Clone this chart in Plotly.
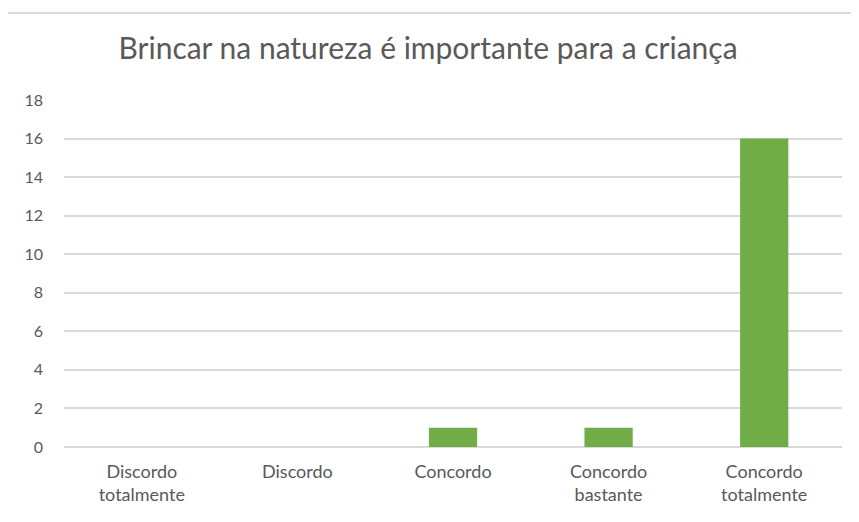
import plotly.graph_objects as go

CATEGORIES = ["Discordo<br>totalmente", "Discordo", "Concordo", "Concordo<br>bastante", "Concordo<br>totalmente"]
COUNTS = [0, 0, 1, 1, 16]
Y_TICKS = [0, 2, 4, 6, 8, 10, 12, 14, 16, 18]

TITLE = "Brincar na natureza é importante para a criança"
BAR_COLOR = "#70ad47"
GRID_COLOR = "#d9d9d9"
TEXT_COLOR = "#595959"
FONT = "Lato"

fig = go.Figure()
fig.add_trace(
    go.Bar(
        x=CATEGORIES,
        y=COUNTS,
        marker={"color": BAR_COLOR, "line": {"width": 0}},
        hoverinfo="x+y",
    )
)

# light chart-area frame, only top and left edges show in the crop
fig.add_shape(
    type="rect",
    xref="paper",
    yref="paper",
    x0=-0.0733,
    x1=1.2,
    y0=-0.6,
    y1=1.2507,
    line={"color": "#d9d9d9", "width": 2},
    layer="below",
)

# the page body adds an 8px offset, margins compensate for it
fig.update_layout(
    width=859,
    height=522,
    template="plotly_white",
    paper_bgcolor="white",
    plot_bgcolor="white",
    font={"family": FONT, "color": TEXT_COLOR, "size": 16},
    title={
        "text": TITLE,
        "x": 0.489,
        "xanchor": "center",
        "xref": "container",
        "y": 0.923,
        "yanchor": "middle",
        "font": {"family": FONT, "size": 30, "color": TEXT_COLOR},
    },
    margin={"l": 56, "r": 25, "t": 92, "b": 83},
    bargap=0.69,
    showlegend=False,
    xaxis={
        "showgrid": False,
        "showline": False,
        "ticks": "",
        "ticklabelstandoff": 12,
        "tickfont": {"size": 18, "color": TEXT_COLOR},
        "range": [-0.5, 4.5],
    },
    yaxis={
        "range": [0, 18],
        "tickvals": Y_TICKS,
        "showgrid": True,
        "gridcolor": GRID_COLOR,
        "gridwidth": 1.5,
        "zeroline": True,
        "zerolinecolor": GRID_COLOR,
        "zerolinewidth": 1.5,
        "showline": False,
        "ticks": "",
        "ticklabelstandoff": 20,
        "tickfont": {"size": 16, "color": TEXT_COLOR},
    },
)

fig.write_html("out.html")
